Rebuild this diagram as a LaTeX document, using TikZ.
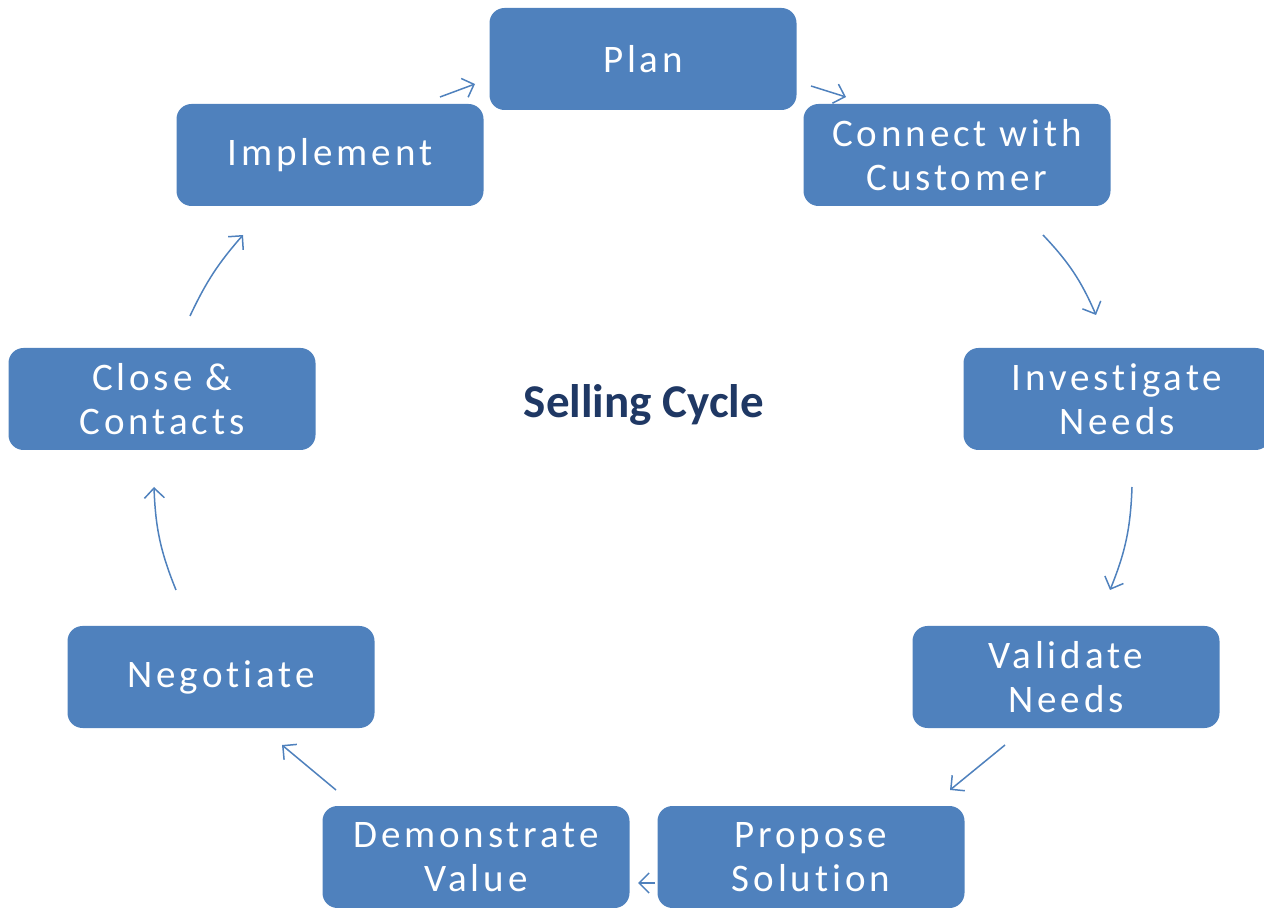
\documentclass[tikz,border=0pt]{standalone}
\usepackage{fontspec}
\setmainfont{Carlito}
\newfontfamily\stagefont[LetterSpace=10,Ligatures=NoCommon]{Carlito}
\usetikzlibrary{arrows.meta}
\definecolor{boxblue}{HTML}{4F81BD}
\definecolor{titleblue}{HTML}{1F3864}
\tikzset{
  stage/.style={draw=none, fill=boxblue, rounded corners=7.5pt, minimum width=153.5pt,
    minimum height=51pt, text=white, align=center, font=\stagefont\fontsize{19.5}{22}\selectfont},
  cyc/.style={draw=boxblue, line width=0.75pt, -{Straight Barb[length=5pt,width=10pt,line width=0.75pt]}}
}
\begin{document}
\begin{tikzpicture}[x=0.5pt,y=-0.5pt]
    \useasboundingbox (0,0) rectangle (1264,908);
    \node[stage] (plan) at (643,59) {Plan};
    \node[stage] (conn) at (957,155) {Connect with\\Customer};
    \node[stage] (inv)  at (1117,399) {Investigate\\Needs};
    \node[stage] (val)  at (1066,677) {Validate\\Needs};
    \node[stage] (prop) at (811,857) {Propose\\Solution};
    \node[stage] (demo) at (476,857) {Demonstrate\\Value};
    \node[stage] (nego) at (221,677) {Negotiate};
    \node[stage] (close) at (162,399) {Close \&\\Contacts};
    \node[stage] (impl) at (330,155) {Implement};

    \node[text=titleblue, font=\bfseries\fontsize{23.5}{26}\selectfont] (title) at (644,405) {Selling Cycle};

    \coordinate (aImpl) at (440,97);   \coordinate (bPlan) at (475,84);
    \coordinate (aPlan) at (811,86);   \coordinate (bConn) at (846,97);
    \coordinate (aConn) at (1043,235); \coordinate (bInv)  at (1096,315);
    \coordinate (aInv)  at (1132,487); \coordinate (bVal)  at (1110,590);
    \coordinate (aVal)  at (1005,745); \coordinate (bProp) at (950,790);
    \coordinate (aProp) at (655,883);  \coordinate (bDemo) at (638,883);
    \coordinate (aDemo) at (336,790);  \coordinate (bNego) at (282,745);
    \coordinate (aNego) at (176,590);  \coordinate (bClose) at (154,487);
    \coordinate (aClose) at (190,316); \coordinate (bImpl) at (243,235);

    \draw[cyc] (aImpl) -- (bPlan);
    \draw[cyc] (aPlan) -- (bConn);
    \draw[cyc] (aConn) to[bend left=10] (bInv);
    \draw[cyc] (aInv) to[bend left=10] (bVal);
    \draw[cyc] (aVal) -- (bProp);
    \draw[cyc] (aProp) -- (bDemo);
    \draw[cyc] (aDemo) -- (bNego);
    \draw[cyc] (aNego) to[bend left=10] (bClose);
    \draw[cyc] (aClose) to[bend left=8] (bImpl);
\end{tikzpicture}
\end{document}
